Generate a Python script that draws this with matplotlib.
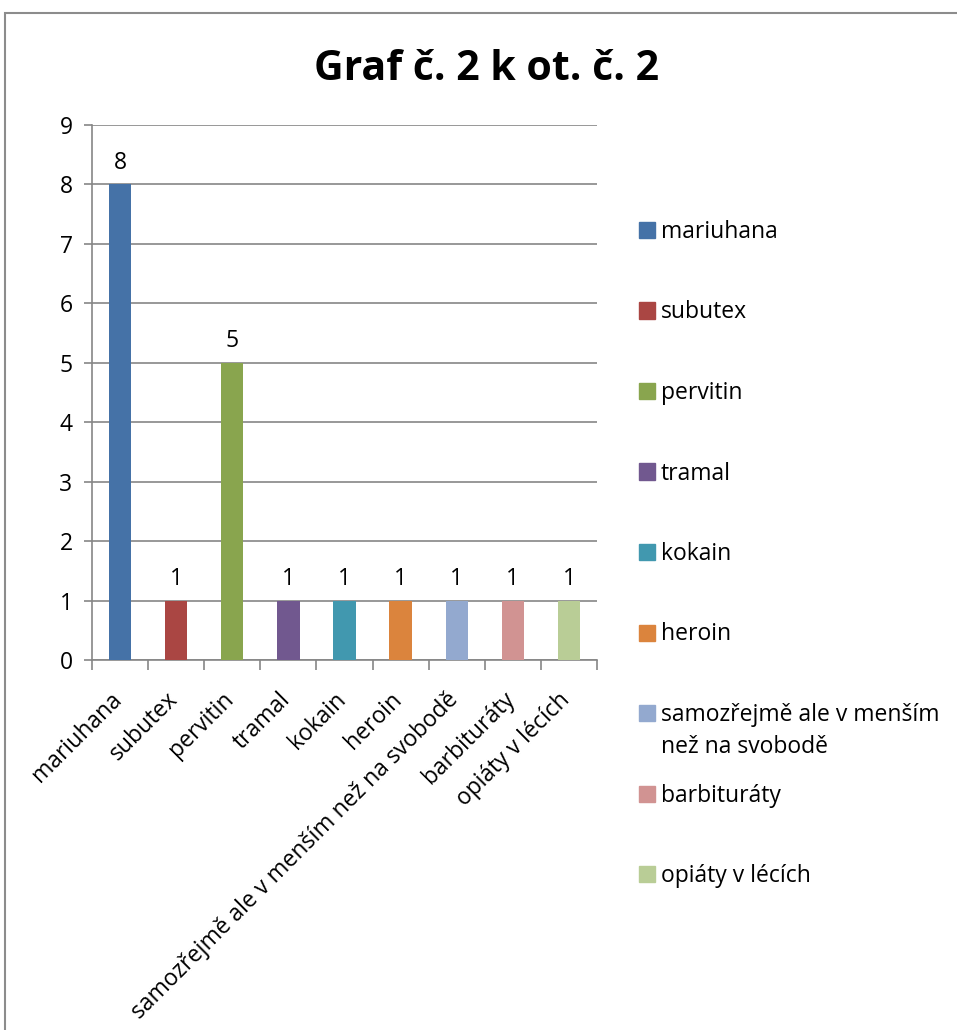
import matplotlib
matplotlib.use("Agg")
import matplotlib.pyplot as plt
import matplotlib.transforms as mtransforms
from matplotlib.patches import Rectangle
from matplotlib.lines import Line2D

categories = ["mariuhana", "subutex", "pervitin", "tramal", "kokain", "heroin",
              "samozřejmě ale v menším než na svobodě", "barbituráty", "opiáty v lécích"]
legend_labels = ["mariuhana", "subutex", "pervitin", "tramal", "kokain", "heroin",
                 "samozřejmě ale v menším\nnež na svobodě", "barbituráty", "opiáty v lécích"]
values = [8, 1, 5, 1, 1, 1, 1, 1, 1]
colors = ["#4572A7", "#AA4643", "#89A54E", "#71588F", "#4198AF", "#DB843D",
          "#93A9CF", "#D19392", "#B9CD96"]
title = "Graf č. 2 k ot. č. 2"

FONT = "Open Sans"
FS = 16.5
GRID = "#868686"

W, H = 957, 1030
fig = plt.figure(figsize=(W / 100, H / 100), dpi=100)
ax = fig.add_axes([92 / W, 1 - 660 / H, (597 - 92) / W, (660 - 125) / H])

x = list(range(1, len(values) + 1))
ax.bar(x, values, width=0.4, color=colors, zorder=3)
ax.set_xlim(0.5, len(values) + 0.5)
ax.set_ylim(0, 9)
ax.set_yticks(range(0, 10))
ax.yaxis.grid(True, color=GRID, linewidth=1.2, zorder=0)
for s in ["top", "right"]:
    ax.spines[s].set_visible(False)
for s in ["left", "bottom"]:
    ax.spines[s].set_color(GRID)
    ax.spines[s].set_linewidth(1.2)

ax.tick_params(axis="y", length=6, width=1.2, color=GRID, labelsize=FS, pad=8)
for t in ax.get_yticklabels():
    t.set_fontfamily(FONT)

# x: ticks at boundaries, labels at centers
ax.set_xticks([i + 0.5 for i in range(0, len(values) + 1)])
ax.set_xticklabels([])
ax.tick_params(axis="x", which="major", length=7, width=1.2, color=GRID)
ax.set_xticks(x, minor=True)
ax.set_xticklabels(categories, minor=True, rotation=45, ha="right", va="center",
                   rotation_mode="anchor", fontsize=FS, fontfamily=FONT)
ax.tick_params(axis="x", which="minor", length=0, pad=26)
offset = mtransforms.ScaledTranslation(-2 / 100, 0, fig.dpi_scale_trans)
for t in ax.get_xticklabels(minor=True):
    t.set_transform(t.get_transform() + offset)

for xi, v in zip(x, values):
    ax.annotate(str(v), (xi, v), xytext=(0, 7), textcoords="offset points",
                ha="center", va="bottom", fontsize=FS, fontfamily=FONT)

fig.text(487 / W, 1 - 69 / H, title, ha="center", va="center",
         fontsize=29.5, fontweight="bold", fontfamily=FONT)

# legend (manual)
base0, step, line_h = 238, 80.5, 32
for i, (lab, col) in enumerate(zip(legend_labels, colors)):
    b = base0 + i * step
    fig.patches.append(Rectangle((639 / W, 1 - b / H), 16 / W, 16 / H,
                                 transform=fig.transFigure, color=col))
    for j, line in enumerate(lab.split("\n")):
        fig.text(661 / W, 1 - (b + j * line_h) / H, line, ha="left", va="baseline",
                 fontsize=FS, fontfamily=FONT)

# outer border
fig.lines.append(Line2D([4.5 / W, 4.5 / W, 1.02], [-0.02, 1 - 13 / H, 1 - 13 / H],
                        transform=fig.transFigure, color="#8c8c8c", linewidth=1.5,
                        solid_capstyle="butt", solid_joinstyle="miter"))

fig.savefig("out.png", dpi=100, facecolor="white")
